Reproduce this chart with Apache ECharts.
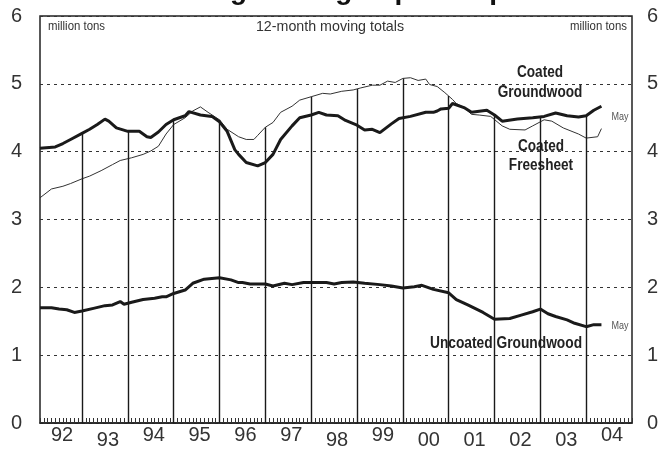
<!DOCTYPE html>
<html>
<head>
<meta charset="utf-8">
<script src="https://cdn.jsdelivr.net/npm/echarts@6/dist/echarts.min.js"></script>
<style>html,body{margin:0;padding:0;background:#fff;}#c{width:667px;height:450px;}</style>
</head>
<body>
<div id="c"></div>
<script>
// Month index: 0 = January 1992
const yearLabels = ['92','93','94','95','96','97','98','99','00','01','02','03','04'];
const yearLineMonths = [12,24,36,48,60,72,84,96,108,120,132,144];

const cgMonths = [1,5,7,9,12,14,16,18,19,21,24,27,29,30,32,34,36,39,40,43,46,48,50,52,53,55,58,60,62,64,67,69,72,74,76,79,81,84,86,88,90,93,95,98,102,104,105,106,108,109,112,114,118,120,122,126,130,133,136,139,142,144,146,148];
const cgValues = [4.05,4.07,4.12,4.18,4.27,4.33,4.40,4.48,4.45,4.35,4.30,4.30,4.22,4.21,4.29,4.40,4.47,4.53,4.59,4.54,4.52,4.44,4.30,4.03,3.96,3.84,3.79,3.84,3.96,4.18,4.38,4.50,4.54,4.58,4.54,4.53,4.46,4.39,4.32,4.33,4.28,4.41,4.49,4.52,4.58,4.58,4.60,4.63,4.64,4.71,4.65,4.58,4.61,4.54,4.45,4.48,4.50,4.52,4.57,4.53,4.51,4.53,4.61,4.67];

const cfMonths = [1,4,7,9,12,14,17,20,22,25,28,30,32,34,36,39,41,43,45,48,50,53,55,57,58,60,62,64,67,69,72,75,77,80,83,85,88,90,92,94,96,98,100,102,103,105,107,109,110,112,114,116,119,122,124,128,130,133,135,138,142,144,147,148];
const cfValues = [3.32,3.45,3.49,3.53,3.60,3.64,3.72,3.81,3.87,3.91,3.96,4.01,4.08,4.26,4.40,4.50,4.60,4.66,4.58,4.47,4.33,4.22,4.18,4.18,4.24,4.36,4.43,4.58,4.67,4.76,4.81,4.86,4.85,4.89,4.91,4.94,4.98,4.98,5.04,5.02,5.08,5.09,5.05,5.07,4.99,4.96,4.87,4.77,4.71,4.65,4.55,4.54,4.52,4.38,4.33,4.32,4.38,4.47,4.45,4.35,4.26,4.20,4.22,4.34];

const ugMonths = [1,4,6,8,10,12,15,18,20,22,23,25,28,31,33,34,36,39,41,44,46,48,51,53,54,56,60,62,65,67,70,73,76,78,80,83,86,90,93,96,99,101,104,108,110,113,117,120,124,127,130,132,134,136,139,141,144,146,148];
const ugValues = [1.70,1.70,1.68,1.67,1.63,1.65,1.69,1.73,1.74,1.79,1.75,1.78,1.82,1.84,1.86,1.86,1.91,1.96,2.06,2.12,2.13,2.14,2.11,2.07,2.07,2.05,2.05,2.02,2.06,2.04,2.07,2.07,2.07,2.05,2.07,2.08,2.06,2.04,2.02,1.99,2.01,2.03,1.97,1.92,1.82,1.74,1.63,1.53,1.54,1.59,1.64,1.68,1.61,1.57,1.52,1.47,1.42,1.45,1.45];

const lowLabels = ['93','98','00','01','02','03'];

const SANS = '"Liberation Sans", Arial, Helvetica, sans-serif';
const zip = (a, b) => a.map((m, i) => [m, b[i]]);
function valueAt(ms, vs, m) {
  for (let i = 0; i < ms.length - 1; i++) {
    if (m >= ms[i] && m <= ms[i + 1]) {
      const t = (m - ms[i]) / (ms[i + 1] - ms[i]);
      return vs[i] + t * (vs[i + 1] - vs[i]);
    }
  }
  return vs[vs.length - 1];
}
const dropLines = yearLineMonths.map(m => {
  const top = Math.max(valueAt(cgMonths, cgValues, m), valueAt(cfMonths, cfValues, m));
  return [{ coord: [m, 0] }, { coord: [m, top] }];
});

function txt(text, x, y, size, bold, align, sx, fill) {
  return { type: 'text', x: x, y: y, scaleX: sx,
    style: { text: text, font: (bold ? 'bold ' : '') + size + 'px ' + SANS, fill: fill, textAlign: align, textVerticalAlign: 'middle' } };
}

const chart = echarts.init(document.getElementById('c'), null, { renderer: 'canvas' });
const yLabel = { fontSize: 20, fontFamily: SANS, color: '#333' };
chart.setOption({
  animation: false,
  backgroundColor: '#fff',
  grid: { left: 40, right: 35, top: 16, bottom: 26, show: true, borderColor: '#222', borderWidth: 1.5, backgroundColor: 'transparent' },
  xAxis: {
    type: 'value', min: 1, max: 156, interval: 1,
    axisLine: { show: true, lineStyle: { color: '#222', width: 1.5 } },
    axisTick: { show: true, inside: true, length: 5, lineStyle: { color: '#333', width: 1 } },
    splitLine: { show: false },
    axisLabel: {
      margin: 2, showMinLabel: true, showMaxLabel: true,
      formatter: v => {
        if (v % 12 !== 6) return '';
        const lab = yearLabels[(v - 6) / 12];
        return lowLabels.includes(lab) ? '{lo|' + lab + '}' : '{hi|' + lab + '}';
      },
      rich: {
        hi: { fontSize: 20, fontFamily: SANS, color: '#333', padding: [0, 0, 0, 6] },
        lo: { fontSize: 20, fontFamily: SANS, color: '#333', padding: [5, 0, 0, 6] }
      }
    }
  },
  yAxis: [
    { type: 'value', min: 0, max: 6, interval: 1, position: 'left',
      axisLine: { show: false }, axisTick: { show: false },
      splitLine: { show: true, lineStyle: { color: '#333', width: 1, type: [3, 4] } },
      axisLabel: Object.assign({ margin: 18 }, yLabel) },
    { type: 'value', min: 0, max: 6, interval: 1, position: 'right',
      axisLine: { show: false }, axisTick: { show: false }, splitLine: { show: false },
      axisLabel: Object.assign({ margin: 15 }, yLabel) }
  ],
  series: [
    { name: 'Coated Freesheet', type: 'line', data: zip(cfMonths, cfValues), showSymbol: false,
      lineStyle: { color: '#333', width: 1 }, z: 3,
      markLine: { silent: true, symbol: ['none', 'none'], label: { show: false },
        lineStyle: { color: '#1a1a1a', width: 1.4, type: 'solid' }, data: dropLines } },
    { name: 'Coated Groundwood', type: 'line', data: zip(cgMonths, cgValues), showSymbol: false,
      lineStyle: { color: '#1a1a1a', width: 3 }, z: 4 },
    { name: 'Uncoated Groundwood', type: 'line', data: zip(ugMonths, ugValues), showSymbol: false,
      lineStyle: { color: '#1a1a1a', width: 3 }, z: 4 }
  ],
  graphic: [
    { type: 'text', x: 334, y: 5, style: { text: 'U.S. Printing-Writing Paper Shipments', font: 'bold 28px ' + SANS, fill: '#111', textAlign: 'center', textVerticalAlign: 'bottom' } },
    txt('million tons', 48, 27, 12, false, 'left', 0.95, '#333'),
    txt('12-month moving totals', 330, 27, 15, false, 'center', 0.95, '#333'),
    txt('million tons', 627, 27, 12, false, 'right', 0.95, '#333'),
    txt('Coated', 540, 73, 16, true, 'center', 0.85, '#222'),
    txt('Groundwood', 540, 93, 16, true, 'center', 0.85, '#222'),
    txt('Coated', 541, 147, 16, true, 'center', 0.85, '#222'),
    txt('Freesheet', 541, 166, 16, true, 'center', 0.85, '#222'),
    txt('Uncoated Groundwood', 506, 344, 16, true, 'center', 0.86, '#222'),
    txt('May', 620, 117, 11, false, 'center', 0.82, '#555'),
    txt('May', 620, 326, 11, false, 'center', 0.82, '#555')
  ]
});
</script>
</body>
</html>
